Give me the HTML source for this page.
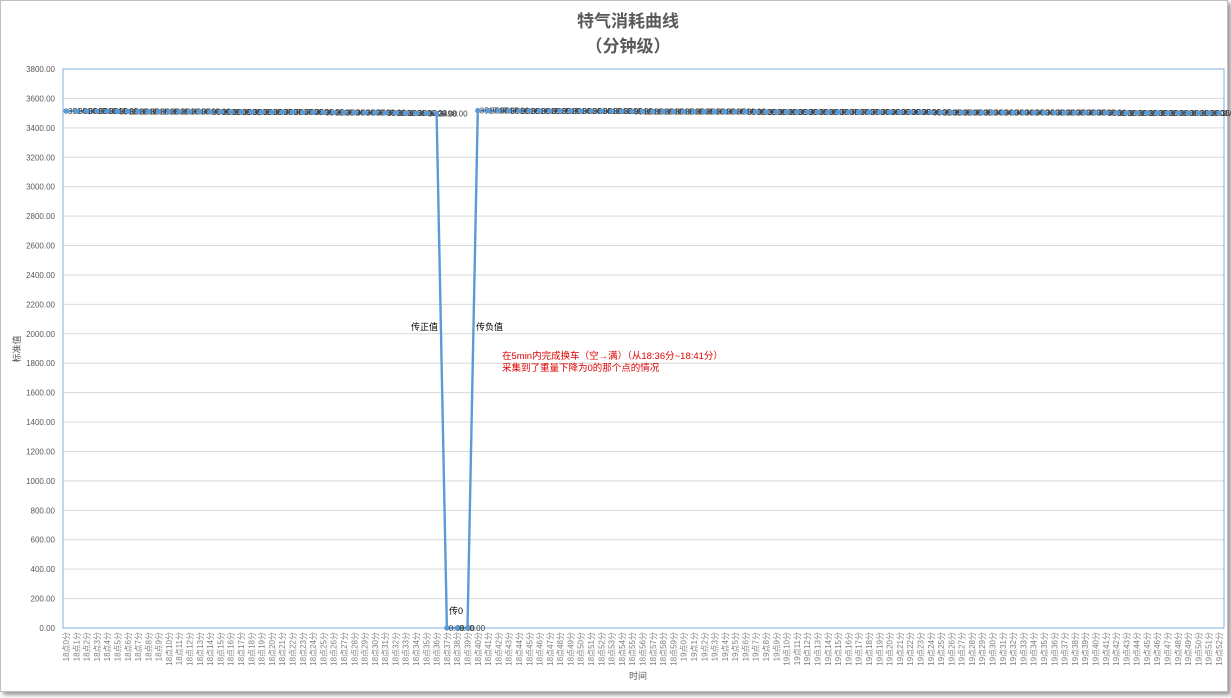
<!DOCTYPE html>
<html><head><meta charset="utf-8"><style>
body{margin:0;background:#fff;font-family:"Liberation Sans","Noto Sans CJK SC",sans-serif}
#wrap{position:absolute;left:0;top:0;width:1226px;height:690px;border:1px solid #bfbfbf;box-shadow:3px 3px 4px #999;background:#fff}
</style></head><body>
<div id="wrap">
<svg id="chart" width="1231" height="697" style="position:absolute;left:0;top:0"></svg>
</div>
<script>
const yTicks=[0,200,400,600,800,1000,1200,1400,1600,1800,2000,2200,2400,2600,2800,3000,3200,3400,3600,3800];
const categories=[];
for(let h=18;h<=19;h++){const m=h===18?59:52;for(let i=0;i<=m;i++)categories.push(h+'点'+i+'分');}
const values=[3514,3514,3513,3513,3513,3512,3512,3512,3511,3511,3511,3510,3510,3510,3509,3509,3509,3508,3508,3508,3507,3507,3507,3506,3506,3505,3505,3504,3504,3503,3503,3502,3502,3501,3500,3499,3498,0,0,0,3517,3517,3517,3516,3516,3516,3515,3515,3515,3514,3514,3514,3513,3513,3513,3512,3512,3512,3512,3511,3511,3511,3510,3510,3510,3510,3509,3509,3509,3509,3508,3508,3508,3508,3507,3507,3507,3507,3507,3506,3506,3506,3506,3506,3505,3505,3505,3505,3505,3504,3504,3504,3504,3504,3504,3503,3503,3503,3503,3503,3503,3502,3502,3502,3502,3502,3502,3501,3501,3501,3501,3501,3501];
const NS='http://www.w3.org/2000/svg';
const svg=document.getElementById('chart');
const L=62,R=1223,T=68,B=627,yMax=3800;
const xs=i=>65+i*(1219-66)/(categories.length-1);
const ys=v=>B-(v/yMax)*(B-T);
function mk(tag,attrs,txt){const e=document.createElementNS(NS,tag);for(const k in attrs)e.setAttribute(k,attrs[k]);if(txt!==undefined)e.textContent=txt;svg.appendChild(e);return e;}
yTicks.forEach(t=>{
 const g=mk('line',{x1:L,x2:R,y1:ys(t),y2:ys(t),stroke:'#d9d9d9','stroke-width':1});
 
 
 const l=mk('text',{x:54,y:ys(t)+3,'text-anchor':'end','font-size':8,fill:'#595959'},t.toFixed(2));
 
 
});
const pa=mk('rect',{x:L,y:T,width:R-L,height:B-T,fill:'none',stroke:'#7fb2e0','stroke-width':1});


categories.forEach((c,i)=>{
 const t=mk('text',{transform:`translate(${xs(i)+3},${B+4}) rotate(-90)`,'text-anchor':'end','font-size':8,fill:'#7f7f7f'},c);
 
 
});
const pts=values.map((v,i)=>xs(i)+','+ys(v)).join(' ');
const line=mk('polyline',{points:pts,fill:'none',stroke:'#5b9bd5','stroke-width':2.4});


values.forEach((v,i)=>{
 const c=mk('circle',{cx:xs(i),cy:ys(v),r:2.7,fill:'#5b9bd5'});
 
 
 const d=mk('text',{x:xs(i)+2,y:ys(v)+3,'font-size':8,fill:'#404040'},v.toFixed(2));
 
 
});
const t1=mk('text',{x:627,y:26,'text-anchor':'middle','font-size':17,'font-weight':'bold',fill:'#595959'},'特气消耗曲线');


const t2=mk('text',{x:627,y:51,'text-anchor':'middle','font-size':17,'font-weight':'bold',fill:'#595959'},'（分钟级）');


const yt=mk('text',{transform:'translate(19,348) rotate(-90)','text-anchor':'middle','font-size':9,fill:'#595959'},'标准值');


const xt=mk('text',{x:637,y:678,'text-anchor':'middle','font-size':9,fill:'#595959'},'时间');


const a1=mk('text',{x:410,y:329,'font-size':9,fill:'#000'},'传正值');


const a2=mk('text',{x:475,y:329,'font-size':9,fill:'#000'},'传负值');


const a3=mk('text',{x:448,y:613,'font-size':9,fill:'#000'},'传0');


const r1=mk('text',{x:501,y:358,'font-size':9.5,fill:'#e00000'},'在5min内完成换车（空→满）（从18:36分~18:41分）');


const r2=mk('text',{x:501,y:370,'font-size':9.5,fill:'#e00000'},'采集到了重量下降为0的那个点的情况');


</script>
</body></html>
